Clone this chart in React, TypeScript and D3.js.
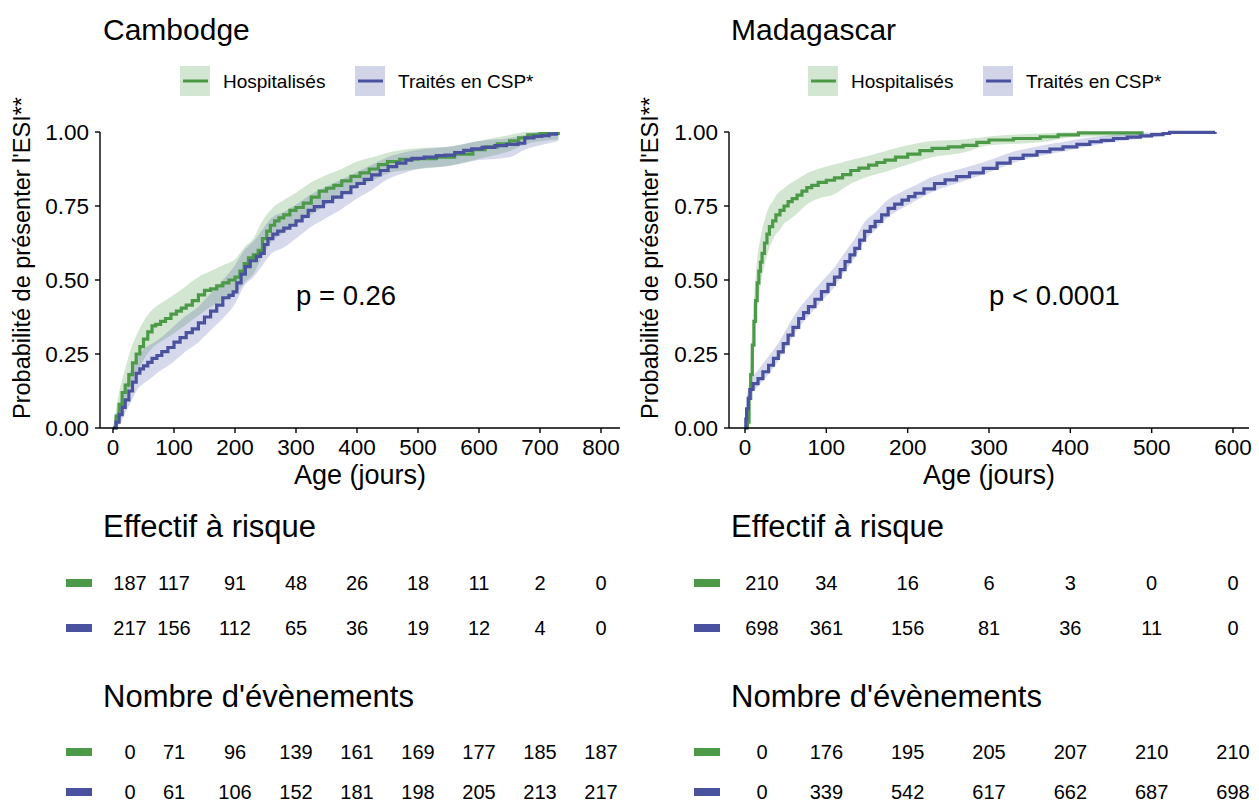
import * as d3 from "d3";
import React from "react";

type Pt = [number, number];
type Band = [number, number, number];

// ---- Cambodge ----
const camTicks = [0, 100, 200, 300, 400, 500, 600, 700, 800];
const camHosp: Pt[] = [
  [0, 0], [5, 0.04], [10, 0.08], [15, 0.12], [20, 0.145], [26, 0.18], [32, 0.22], [38, 0.25],
  [44, 0.275], [50, 0.3], [57, 0.325], [64, 0.345], [70, 0.35], [78, 0.36], [86, 0.37],
  [95, 0.385], [104, 0.395], [112, 0.405], [120, 0.415], [130, 0.43], [140, 0.45], [150, 0.465],
  [160, 0.47], [170, 0.48], [180, 0.49], [190, 0.5], [200, 0.51], [208, 0.53], [215, 0.555],
  [222, 0.575], [230, 0.585], [238, 0.6], [245, 0.64], [252, 0.665], [258, 0.685], [265, 0.7],
  [272, 0.71], [280, 0.72], [290, 0.735], [300, 0.745], [312, 0.76], [325, 0.78], [338, 0.8],
  [350, 0.81], [362, 0.82], [375, 0.835], [390, 0.85], [405, 0.862], [420, 0.875], [435, 0.89],
  [450, 0.9], [470, 0.908], [500, 0.91], [530, 0.915], [560, 0.925], [590, 0.94], [610, 0.95],
  [630, 0.96], [650, 0.97], [665, 0.98], [680, 0.99], [700, 0.995], [730, 1.0],
];
const camCsp: Pt[] = [
  [0, 0], [5, 0.02], [10, 0.045], [15, 0.07], [20, 0.095], [26, 0.125], [32, 0.155], [38, 0.185],
  [44, 0.2], [50, 0.21], [57, 0.222], [64, 0.235], [72, 0.245], [80, 0.258], [90, 0.272],
  [100, 0.29], [110, 0.305], [120, 0.322], [130, 0.335], [140, 0.355], [150, 0.375], [160, 0.395],
  [170, 0.415], [180, 0.44], [190, 0.448], [197, 0.46], [203, 0.49], [210, 0.52], [217, 0.545],
  [225, 0.565], [235, 0.58], [242, 0.59], [248, 0.62], [254, 0.64], [262, 0.655], [270, 0.665],
  [280, 0.675], [290, 0.685], [300, 0.7], [310, 0.715], [320, 0.735], [330, 0.748], [345, 0.765],
  [360, 0.78], [375, 0.795], [390, 0.815], [400, 0.826], [412, 0.84], [424, 0.855], [438, 0.87],
  [451, 0.883], [465, 0.895], [480, 0.905], [490, 0.911], [510, 0.915], [530, 0.92], [544, 0.922],
  [560, 0.93], [575, 0.938], [588, 0.943], [605, 0.948], [626, 0.954], [645, 0.958], [664, 0.962],
  [675, 0.98], [690, 0.985], [703, 0.988], [715, 0.993], [727, 1.0],
];
const camHospBand: Band[] = [
  [0, 0, 0], [10, 0.04, 0.12], [20, 0.09, 0.2], [30, 0.14, 0.27], [40, 0.19, 0.32], [50, 0.23, 0.36],
  [60, 0.26, 0.39], [70, 0.28, 0.41], [85, 0.3, 0.43], [100, 0.32, 0.45], [120, 0.35, 0.48],
  [140, 0.38, 0.51], [160, 0.41, 0.53], [180, 0.43, 0.55], [200, 0.45, 0.57], [215, 0.49, 0.61],
  [230, 0.52, 0.64], [245, 0.58, 0.7], [260, 0.63, 0.74], [280, 0.66, 0.77], [300, 0.69, 0.795],
  [325, 0.72, 0.83], [350, 0.755, 0.855], [375, 0.785, 0.875], [400, 0.815, 0.9], [425, 0.835, 0.915],
  [450, 0.86, 0.93], [475, 0.87, 0.94], [500, 0.875, 0.945], [550, 0.885, 0.95], [600, 0.91, 0.97],
  [650, 0.935, 0.99], [680, 0.96, 1.0], [730, 0.975, 1.0],
];
const camCspBand: Band[] = [
  [0, 0, 0], [10, 0.01, 0.08], [20, 0.05, 0.14], [30, 0.09, 0.2], [40, 0.13, 0.24], [50, 0.15, 0.265],
  [60, 0.165, 0.28], [75, 0.19, 0.3], [90, 0.21, 0.325], [100, 0.225, 0.345], [120, 0.26, 0.38],
  [140, 0.29, 0.41], [160, 0.33, 0.455], [180, 0.37, 0.5], [200, 0.42, 0.55], [215, 0.48, 0.6],
  [230, 0.51, 0.63], [245, 0.55, 0.67], [260, 0.59, 0.71], [280, 0.61, 0.73], [300, 0.64, 0.755],
  [325, 0.68, 0.79], [350, 0.71, 0.815], [375, 0.74, 0.84], [400, 0.775, 0.865], [425, 0.805, 0.89],
  [450, 0.84, 0.915], [475, 0.86, 0.93], [500, 0.875, 0.94], [550, 0.885, 0.95], [600, 0.905, 0.97],
  [650, 0.915, 0.98], [675, 0.94, 0.99], [700, 0.955, 1.0], [730, 0.97, 1.0],
];
const camRiskHosp = [187, 117, 91, 48, 26, 18, 11, 2, 0];
const camRiskCsp = [217, 156, 112, 65, 36, 19, 12, 4, 0];
const camEvHosp = [0, 71, 96, 139, 161, 169, 177, 185, 187];
const camEvCsp = [0, 61, 106, 152, 181, 198, 205, 213, 217];

// ---- Madagascar ----
const madTicks = [0, 100, 200, 300, 400, 500, 600];
const madHosp: Pt[] = [
  [0, 0], [3, 0.02], [5, 0.1], [7, 0.18], [9, 0.28], [11, 0.36], [13, 0.43], [15, 0.49], [17, 0.53],
  [19, 0.56], [21, 0.59], [24, 0.625], [27, 0.655], [30, 0.68], [34, 0.7], [38, 0.72], [43, 0.735],
  [48, 0.75], [53, 0.765], [58, 0.775], [64, 0.787], [70, 0.8], [76, 0.812], [82, 0.82], [90, 0.83],
  [100, 0.837], [110, 0.845], [120, 0.856], [130, 0.87], [140, 0.878], [152, 0.888], [162, 0.897],
  [172, 0.905], [185, 0.915], [200, 0.925], [215, 0.937], [230, 0.945], [250, 0.95], [268, 0.955],
  [285, 0.965], [300, 0.973], [330, 0.978], [363, 0.984], [385, 0.99], [410, 0.997], [490, 0.997],
];
const madCsp: Pt[] = [
  [0, 0], [1, 0.03], [2, 0.065], [4, 0.1], [6, 0.13], [10, 0.15], [16, 0.167], [22, 0.19], [29, 0.212],
  [35, 0.235], [41, 0.257], [47, 0.285], [53, 0.314], [59, 0.34], [66, 0.37], [72, 0.39], [78, 0.41],
  [86, 0.435], [94, 0.461], [102, 0.485], [110, 0.51], [117, 0.535], [123, 0.562], [129, 0.585],
  [135, 0.607], [141, 0.635], [147, 0.664], [154, 0.68], [160, 0.698], [168, 0.72], [176, 0.742],
  [184, 0.756], [193, 0.77], [201, 0.782], [209, 0.793], [220, 0.808], [233, 0.826], [246, 0.838],
  [260, 0.849], [276, 0.862], [293, 0.877], [310, 0.895], [326, 0.911], [342, 0.922], [359, 0.934],
  [375, 0.942], [391, 0.95], [408, 0.958], [424, 0.967], [438, 0.972], [453, 0.978], [470, 0.983],
  [486, 0.987], [500, 0.991], [514, 0.995], [522, 0.999], [578, 1.0],
];
const madHospBand: Band[] = [
  [0, 0, 0], [3, 0, 0.04], [5, 0.06, 0.14], [7, 0.12, 0.24], [9, 0.21, 0.35], [11, 0.28, 0.44],
  [13, 0.35, 0.51], [15, 0.41, 0.57], [17, 0.45, 0.61], [19, 0.48, 0.64], [21, 0.51, 0.67],
  [24, 0.55, 0.7], [27, 0.58, 0.73], [30, 0.61, 0.75], [34, 0.635, 0.765], [38, 0.655, 0.785],
  [43, 0.67, 0.8], [48, 0.69, 0.81], [55, 0.705, 0.825], [64, 0.725, 0.84], [76, 0.755, 0.86],
  [90, 0.775, 0.875], [110, 0.79, 0.89], [130, 0.825, 0.905], [152, 0.85, 0.92], [172, 0.865, 0.935],
  [200, 0.89, 0.955], [230, 0.915, 0.97], [268, 0.93, 0.975], [300, 0.955, 0.985], [363, 0.965, 0.995],
  [410, 0.985, 1.0], [490, 0.985, 1.0],
];
const madCspBand: Band[] = [
  [0, 0, 0], [2, 0.04, 0.09], [6, 0.105, 0.155], [16, 0.14, 0.195], [29, 0.182, 0.242],
  [41, 0.227, 0.287], [53, 0.283, 0.345], [66, 0.338, 0.402], [78, 0.378, 0.442], [94, 0.428, 0.494],
  [110, 0.477, 0.543], [123, 0.53, 0.594], [135, 0.575, 0.639], [147, 0.632, 0.696], [160, 0.668, 0.728],
  [176, 0.713, 0.771], [193, 0.742, 0.798], [209, 0.767, 0.819], [233, 0.801, 0.851], [260, 0.826, 0.872],
  [293, 0.856, 0.898], [326, 0.892, 0.93], [359, 0.917, 0.951], [391, 0.934, 0.966], [424, 0.953, 0.981],
  [453, 0.966, 0.99], [486, 0.977, 0.997], [514, 0.988, 1.0], [522, 0.995, 1.0], [578, 1.0, 1.0],
];
const madRiskHosp = [210, 34, 16, 6, 3, 0, 0];
const madRiskCsp = [698, 361, 156, 81, 36, 11, 0];
const madEvHosp = [0, 176, 195, 205, 207, 210, 210];
const madEvCsp = [0, 339, 542, 617, 662, 687, 698];

const GREEN = "#4c9a48";
const BLUE = "#4a52a0";
const GREEN_FILL = "#4c9a48";
const BLUE_FILL = "#5a62b0";
const FONT = "'Liberation Sans', Arial, sans-serif";
const yTicks = [0, 0.25, 0.5, 0.75, 1];

interface PanelProps {
  left: number;
  title: string;
  ticks: number[];
  x0: number;
  x1: number;
  axisFrom: number;
  axisTo: number;
  hosp: Pt[];
  csp: Pt[];
  hospBand: Band[];
  cspBand: Band[];
  pText: string;
  riskHosp: number[];
  riskCsp: number[];
  evHosp: number[];
  evCsp: number[];
}

const Panel = (p: PanelProps) => {
  const xMax = p.ticks[p.ticks.length - 1];
  const x = d3.scaleLinear().domain([0, xMax]).range([p.x0, p.x1]);
  const y = d3.scaleLinear().domain([0, 1]).range([428, 132]);
  const line = d3.line<Pt>().x((d) => x(d[0])).y((d) => y(d[1])).curve(d3.curveStepAfter);
  // bands are drawn smooth: the original has many tiny steps
  const area = d3
    .area<Band>()
    .x((d) => x(d[0]))
    .y0((d) => y(d[1]))
    .y1((d) => y(d[2]))
    .curve(d3.curveMonotoneX);
  // first column of the table is nudged right, as in the original
  const colX = (i: number) => x(p.ticks[i]) + (i === 0 ? 17 : 0);
  const L = p.left;

  const tableRow = (vals: number[], yy: number, color: string, key: string) => (
    <g key={key}>
      <rect x={L + 66} y={yy - 4} width={26} height={8} fill={color} />
      {vals.map((v, i) => (
        <text key={i} x={colX(i)} y={yy} textAnchor="middle" dominantBaseline="central" fontSize={20}>
          {v}
        </text>
      ))}
    </g>
  );

  const legendItem = (kx: number, label: string, color: string) => (
    <g>
      <rect x={kx} y={66} width={30} height={30} fill={color} fillOpacity={0.25} />
      <line x1={kx + 3} x2={kx + 28} y1={81} y2={81} stroke={color} strokeWidth={3} />
      <text x={kx + 43} y={81} dominantBaseline="central" fontSize={19}>
        {label}
      </text>
    </g>
  );

  return (
    <g fontFamily={FONT} fill="#000">
      <text x={L + 103} y={40} fontSize={30}>
        {p.title}
      </text>
      {legendItem(L + 180, "Hospitalisés", GREEN)}
      {legendItem(L + 355, "Traités en CSP*", BLUE)}

      <path d={area(p.hospBand) || ""} fill={GREEN_FILL} fillOpacity={0.25} />
      <path d={area(p.cspBand) || ""} fill={BLUE_FILL} fillOpacity={0.25} />
      <path d={line(p.hosp) || ""} fill="none" stroke={GREEN} strokeWidth={3.2} />
      <path d={line(p.csp) || ""} fill="none" stroke={BLUE} strokeWidth={3.2} />

      {/* axes */}
      <line x1={p.axisFrom} x2={p.axisFrom} y1={y(1)} y2={y(0)} stroke="#000" strokeWidth={1.4} />
      <line x1={p.axisFrom} x2={p.axisTo} y1={y(0)} y2={y(0)} stroke="#000" strokeWidth={1.4} />
      {yTicks.map((t) => (
        <g key={t}>
          <line x1={p.axisFrom - 5} x2={p.axisFrom} y1={y(t)} y2={y(t)} stroke="#000" strokeWidth={1.4} />
          <text x={p.axisFrom - 11} y={y(t)} textAnchor="end" dominantBaseline="central" fontSize={22.5}>
            {t.toFixed(2)}
          </text>
        </g>
      ))}
      {p.ticks.map((t) => (
        <g key={t}>
          <line x1={x(t)} x2={x(t)} y1={y(0)} y2={y(0) + 5} stroke="#000" strokeWidth={1.4} />
          <text x={x(t)} y={455} textAnchor="middle" fontSize={22.5}>
            {t}
          </text>
        </g>
      ))}
      <text x={(p.axisFrom + p.axisTo) / 2} y={484} textAnchor="middle" fontSize={27}>
        Age (jours)
      </text>
      <text
        transform={`translate(${L + 30},258) rotate(-90)`}
        textAnchor="middle"
        fontSize={23.5}
      >
        Probabilité de présenter l'ESI**
      </text>
      <text x={x(300)} y={y(0.415)} fontSize={27.5}>
        {p.pText}
      </text>

      {/* tables */}
      <text x={L + 103} y={537} fontSize={31}>
        Effectif à risque
      </text>
      {tableRow(p.riskHosp, 583, GREEN, "rh")}
      {tableRow(p.riskCsp, 628, BLUE, "rc")}
      <text x={L + 103} y={707} fontSize={31}>
        Nombre d'évènements
      </text>
      {tableRow(p.evHosp, 752, GREEN, "eh")}
      {tableRow(p.evCsp, 792, BLUE, "ec")}
    </g>
  );
};

export default function App() {
  return (
    <svg
      width={1259}
      height={803}
      style={{ position: "absolute", left: 0, top: 0, background: "#fff" }}
    >
      <Panel
        left={0}
        title="Cambodge"
        ticks={camTicks}
        x0={113}
        x1={601}
        axisFrom={100}
        axisTo={620}
        hosp={camHosp}
        csp={camCsp}
        hospBand={camHospBand}
        cspBand={camCspBand}
        pText="p = 0.26"
        riskHosp={camRiskHosp}
        riskCsp={camRiskCsp}
        evHosp={camEvHosp}
        evCsp={camEvCsp}
      />
      <Panel
        left={628}
        title="Madagascar"
        ticks={madTicks}
        x0={745}
        x1={1233}
        axisFrom={729}
        axisTo={1249}
        hosp={madHosp}
        csp={madCsp}
        hospBand={madHospBand}
        cspBand={madCspBand}
        pText="p < 0.0001"
        riskHosp={madRiskHosp}
        riskCsp={madRiskCsp}
        evHosp={madEvHosp}
        evCsp={madEvCsp}
      />
    </svg>
  );
}
